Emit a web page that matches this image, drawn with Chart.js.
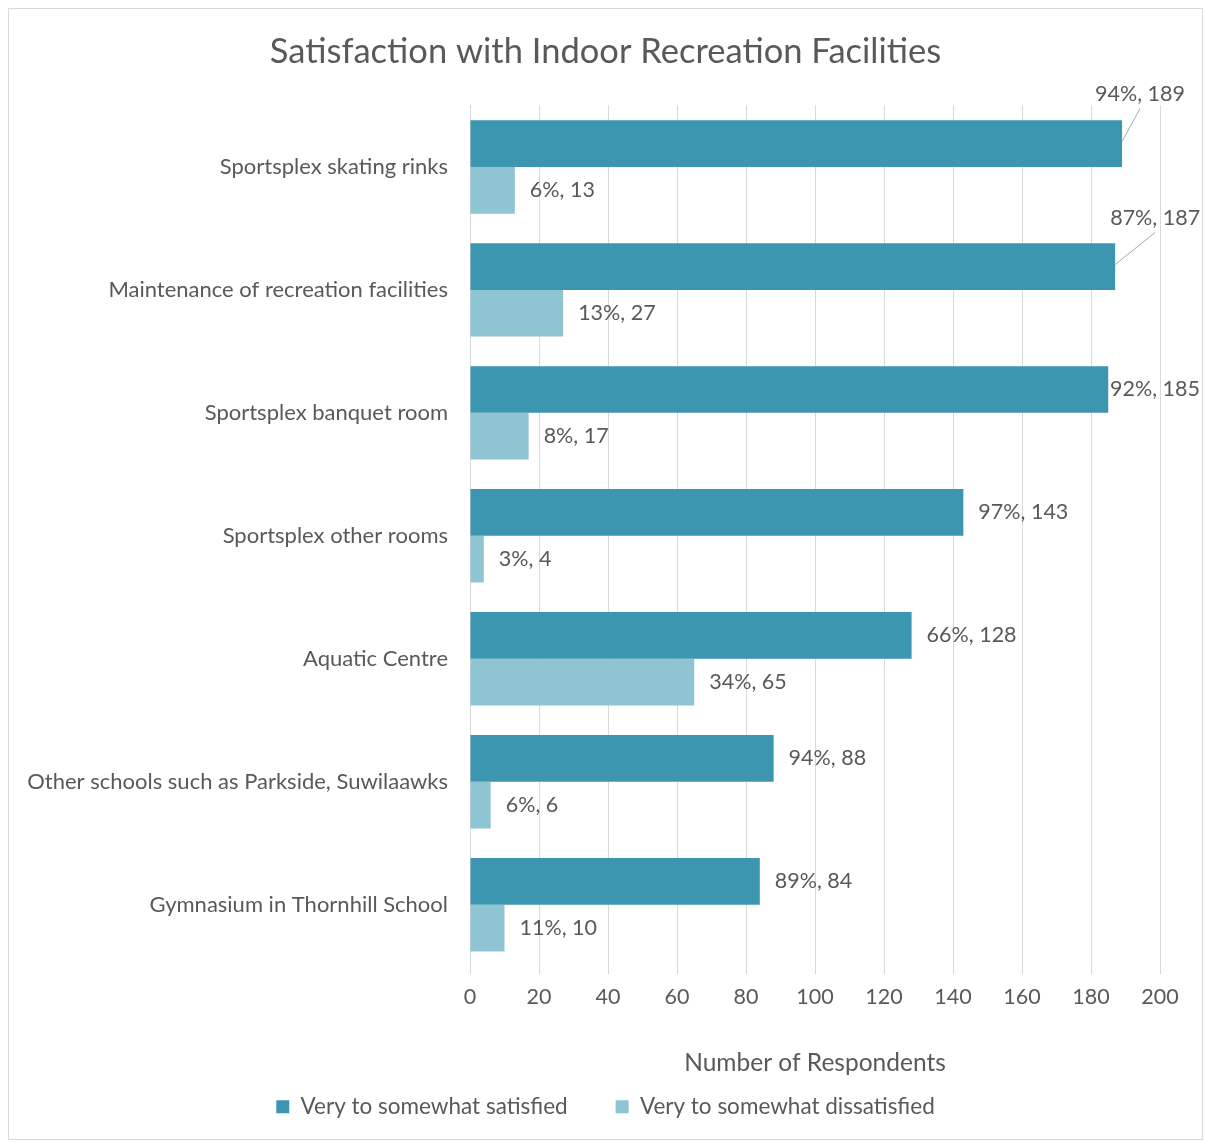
<!DOCTYPE html>
<html>
<head>
<meta charset="utf-8">
<script src="https://cdn.jsdelivr.net/npm/chart.js@4.4.1/dist/chart.umd.min.js"></script>
<style>
  body { margin: 0; background: #fff; }
  #wrap {
    position: absolute;
    left: 8px;
    top: 8px;
    width: 1193px;
    height: 1130px;
    border: 1px solid #d9d9d9;
  }
</style>
</head>
<body>
<div id="wrap"><canvas id="myChart"></canvas></div>
<script>
const categories = [
  "Sportsplex skating rinks",
  "Maintenance of recreation facilities",
  "Sportsplex banquet room",
  "Sportsplex other rooms",
  "Aquatic Centre",
  "Other schools such as Parkside, Suwilaawks",
  "Gymnasium in Thornhill School",
];
const satisfied = [189, 187, 185, 143, 128, 88, 84];
const satisfiedPct = [94, 87, 92, 97, 66, 94, 89];
const dissatisfied = [13, 27, 17, 4, 65, 6, 10];
const dissatisfiedPct = [6, 13, 8, 3, 34, 6, 11];
const xTicks = [0, 20, 40, 60, 80, 100, 120, 140, 160, 180, 200];

const TEXT = "#595959";
const FONT = "Lato, 'Open Sans', sans-serif";

// where a label does not fit, Excel pulls it out with a leader line
const callouts = {
  0: { dx: 18, dy: -49 },
  1: { dx: 40, dy: -48 },
};

const barLabels = {
  id: "barLabels",
  afterDatasetsDraw(chart) {
    const ctx = chart.ctx;
    const pcts = [satisfiedPct, dissatisfiedPct];
    ctx.save();
    ctx.font = "21.5px " + FONT;
    ctx.fillStyle = TEXT;
    ctx.textBaseline = "middle";
    chart.data.datasets.forEach((ds, d) => {
      chart.getDatasetMeta(d).data.forEach((bar, i) => {
        const text = `${pcts[d][i]}%, ${ds.data[i]}`;
        const w = ctx.measureText(text).width;
        const c = d === 0 ? callouts[i] : null;
        if (c) {
          const lx = bar.x + c.dx;
          const ly = bar.y + c.dy;
          ctx.textAlign = "center";
          ctx.fillText(text, lx, ly);
          ctx.strokeStyle = "#a6a6a6";
          ctx.lineWidth = 1;
          ctx.beginPath();
          ctx.moveTo(bar.x, bar.y - 2);
          ctx.lineTo(lx, ly + 14);
          ctx.stroke();
        } else {
          let lx = bar.x + 15;
          if (lx + w > chart.width - 2) lx = chart.width - 2 - w;
          ctx.textAlign = "left";
          ctx.fillText(text, lx, bar.y);
        }
      });
    });
    ctx.restore();
  },
};

new Chart(document.getElementById("myChart"), {
  type: "bar",
  data: {
    labels: categories,
    datasets: [
      {
        label: "Very to somewhat satisfied",
        data: satisfied,
        backgroundColor: "#3d96b0",
      },
      {
        label: "Very to somewhat dissatisfied",
        data: dissatisfied,
        backgroundColor: "#8fc4d3",
      },
    ],
  },
  options: {
    indexAxis: "y",
    responsive: true,
    maintainAspectRatio: false,
    animation: false,
    categoryPercentage: 0.76,
    barPercentage: 1,
    layout: { padding: { left: 15, right: 15, bottom: 11 } },
    plugins: {
      title: {
        display: true,
        text: "Satisfaction with Indoor Recreation Facilities",
        color: TEXT,
        font: { family: FONT, size: 34.5, weight: "normal" },
        padding: { top: 22, bottom: 33 },
      },
      legend: {
        position: "bottom",
        labels: {
          color: TEXT,
          font: { family: FONT, size: 22.5 },
          boxWidth: 13,
          boxHeight: 13,
          padding: 48,
        },
      },
      tooltip: { enabled: false },
    },
    scales: {
      x: {
        min: 0,
        max: 200,
        afterBuildTicks: (scale) => {
          scale.ticks = xTicks.map((v) => ({ value: v }));
        },
        grid: { color: "#d9d9d9", tickLength: 8 },
        border: { display: false },
        ticks: {
          color: TEXT,
          font: { family: FONT, size: 21.5 },
          padding: 10,
        },
        title: {
          display: true,
          text: "Number of Respondents",
          color: TEXT,
          font: { family: FONT, size: 24.5 },
          padding: { top: 28, bottom: -30 },
        },
      },
      y: {
        afterFit: (scale) => {
          scale.width = 446;
        },
        grid: { display: false },
        border: { color: "#d9d9d9" },
        ticks: {
          color: TEXT,
          font: { family: FONT, size: 22 },
          padding: 14,
        },
      },
      // empty right-hand axis: only reserves the gap right of the plot
      yRight: {
        position: "right",
        grid: { display: false },
        border: { display: false },
        ticks: { display: false },
        afterFit: (scale) => {
          scale.width = 27;
        },
      },
    },
  },
  plugins: [barLabels],
});
</script>
</body>
</html>
